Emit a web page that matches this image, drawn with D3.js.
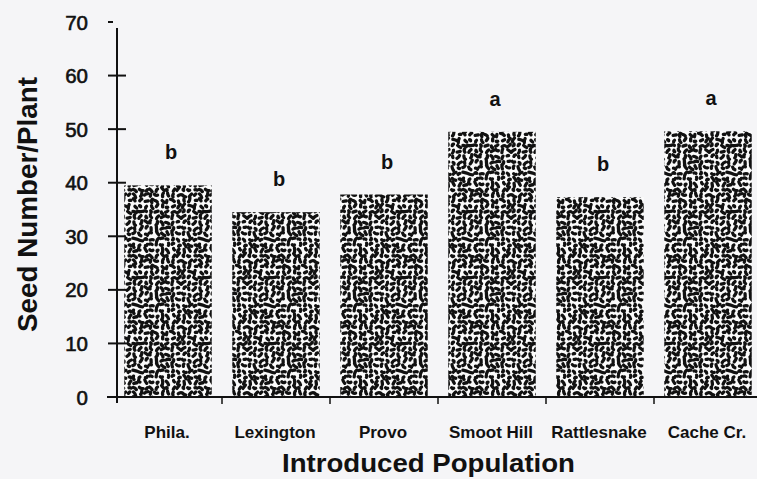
<!DOCTYPE html>
<html>
<head>
<meta charset="utf-8">
<script src="https://cdn.jsdelivr.net/npm/d3@7/dist/d3.min.js"></script>
<style>
  html, body { margin: 0; padding: 0; background: #f5f5f7; }
  svg { display: block; }
  text { font-family: "Liberation Sans", Arial, Helvetica, sans-serif; fill: #111; }
</style>
</head>
<body>
<svg id="chart" width="757" height="479"></svg>
<script>
// Seed output of introduced populations
const populations = ["Phila.", "Lexington", "Provo", "Smoot Hill", "Rattlesnake", "Cache Cr."];
const seedsPerPlant = [39.5, 34.5, 37.8, 49.5, 37.3, 49.6];
const groupLetters = ["b", "b", "b", "a", "b", "a"];
const yTicks = [0, 10, 20, 30, 40, 50, 60, 70];

const W = 757, H = 479;
const svg = d3.select("#chart");

svg.append("rect").attr("width", W).attr("height", H).attr("fill", "#f5f5f7");

// Stippled "worm" texture used to fill the bars
const defs = svg.append("defs");
const cell = 5.5, n = 12, tile = cell * n;
const pat = defs.append("pattern")
  .attr("id", "stipple")
  .attr("patternUnits", "userSpaceOnUse")
  .attr("width", tile).attr("height", tile);
pat.append("rect").attr("width", tile).attr("height", tile).attr("fill", "#fbfbfb");
const hash = (i, j, k) => {
  const s = Math.sin(i * 12.9898 + j * 78.233 + k * 37.719) * 43758.5453;
  return s - Math.floor(s);
};
for (let i = 0; i < n; i++) {
  for (let j = 0; j < n; j++) {
    const cx = i * cell + cell / 2 + (hash(i, j, 1) - 0.5) * 2.2;
    const cy = j * cell + cell / 2 + (hash(i, j, 2) - 0.5) * 2.2;
    const ang = hash(i, j, 3) * Math.PI;
    const len = 1.4 + hash(i, j, 4) * 3.0;
    const bend = (hash(i, j, 5) - 0.5) * 2.4;
    const dx = Math.cos(ang) * len / 2, dy = Math.sin(ang) * len / 2;
    const nx = -Math.sin(ang) * bend, ny = Math.cos(ang) * bend;
    for (const ox of [-tile, 0, tile]) {
      for (const oy of [-tile, 0, tile]) {
        const x0 = cx + ox, y0 = cy + oy;
        pat.append("path")
          .attr("d", `M${x0 - dx},${y0 - dy} Q${x0 + nx},${y0 + ny} ${x0 + dx},${y0 + dy}`)
          .attr("fill", "none")
          .attr("stroke", "#111").attr("stroke-width", 3.3)
          .attr("stroke-linecap", "round");
      }
    }
  }
}

// Scales
const x = d3.scaleBand()
  .domain(populations)
  .range([114, 762])
  .paddingInner(0.19)
  .paddingOuter(0.095);
const y = d3.scaleLinear().domain([0, 70]).range([397, 22]);

// Bars
const data = populations.map((p, i) => ({ p, v: seedsPerPlant[i], g: groupLetters[i] }));
svg.append("g").selectAll("rect")
  .data(data).join("rect")
  .attr("x", d => x(d.p))
  .attr("y", d => y(d.v))
  .attr("width", x.bandwidth())
  .attr("height", d => y(0) - y(d.v))
  .attr("fill", "url(#stipple)");

// Significance letters
svg.append("g").selectAll("text")
  .data(data).join("text")
  .attr("x", d => x(d.p) + x.bandwidth() / 2 + 3)
  .attr("y", d => y(d.v) - 26)
  .attr("text-anchor", "middle")
  .attr("font-size", 20)
  .attr("font-weight", "bold")
  .text(d => d.g);

// Y axis
const axisX = 117;
const yAxis = svg.append("g");
yAxis.append("line")
  .attr("x1", axisX).attr("x2", axisX)
  .attr("y1", 28).attr("y2", 403)
  .attr("stroke", "#111").attr("stroke-width", 2);
yAxis.selectAll("line.tick")
  .data(yTicks).join("line")
  .attr("class", "tick")
  .attr("x1", 108)
  .attr("x2", d => d === 70 ? 113 : (d === 0 ? axisX : 126))
  .attr("y1", d => y(d)).attr("y2", d => y(d))
  .attr("stroke", "#111").attr("stroke-width", 2);
yAxis.selectAll("text")
  .data(yTicks).join("text")
  .attr("x", 88)
  .attr("y", d => y(d) + 7.5)
  .attr("text-anchor", "end")
  .attr("font-size", 20.5)
  .attr("stroke", "#111").attr("stroke-width", 0.6)
  .text(d => d3.format("d")(d));

// X axis
const xAxis = svg.append("g");
xAxis.append("line")
  .attr("x1", 107).attr("x2", W)
  .attr("y1", y(0)).attr("y2", y(0))
  .attr("stroke", "#111").attr("stroke-width", 2);
const step = x.step();
xAxis.selectAll("line.tick")
  .data(populations.slice(1)).join("line")
  .attr("class", "tick")
  .attr("x1", d => x(d) - step * x.paddingInner() / 2)
  .attr("x2", d => x(d) - step * x.paddingInner() / 2)
  .attr("y1", y(0)).attr("y2", y(0) + 7)
  .attr("stroke", "#111").attr("stroke-width", 1.5);
xAxis.selectAll("text")
  .data(populations).join("text")
  .attr("x", d => x(d) + x.bandwidth() / 2 - 1)
  .attr("y", 438)
  .attr("text-anchor", "middle")
  .attr("font-size", 17)
  .attr("font-weight", "bold")
  .text(d => d);

// Axis titles
svg.append("text")
  .attr("transform", "translate(37,204.5) rotate(-90)")
  .attr("text-anchor", "middle")
  .attr("font-size", 27)
  .attr("font-weight", "bold")
  .attr("textLength", 255)
  .attr("lengthAdjust", "spacingAndGlyphs")
  .text("Seed Number/Plant");

svg.append("text")
  .attr("x", 428.5)
  .attr("y", 472)
  .attr("text-anchor", "middle")
  .attr("font-size", 25)
  .attr("font-weight", "bold")
  .attr("textLength", 293)
  .attr("lengthAdjust", "spacingAndGlyphs")
  .text("Introduced Population");
</script>
</body>
</html>
